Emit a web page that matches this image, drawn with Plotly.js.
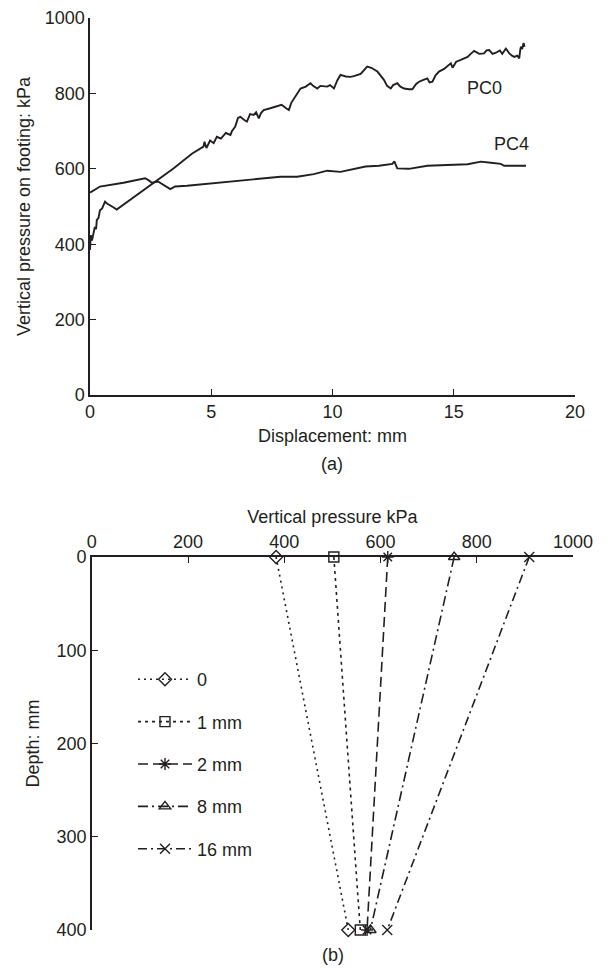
<!DOCTYPE html>
<html>
<head>
<meta charset="utf-8">
<script src="https://cdn.plot.ly/plotly-3.0.1.min.js"></script>
<style>html,body{margin:0;padding:0;background:#fff;}#chart{width:607px;height:979px;}</style>
</head>
<body>
<div id="chart"></div>
<script>
// ---- Panel (a): pressure vs displacement ----
const pc0X = [0,0.03,0.08,0.2,0.25,0.28,0.35,0.41,0.5,0.62,0.7,0.83,0.96,1.10,1.8,2.48,3.44,4.2,4.68,4.72,4.8,4.95,5.1,5.23,5.4,5.6,5.79,5.85,5.99,6.1,6.2,6.35,6.47,6.6,6.75,6.85,6.96,7.05,7.16,7.4,7.71,7.9,8.1,8.2,8.3,8.47,8.68,8.9,9.09,9.2,9.37,9.5,9.78,9.9,10.06,10.2,10.33,10.55,10.74,10.88,11.16,11.43,11.6,11.85,12.0,12.12,12.25,12.4,12.5,12.67,12.8,12.95,13.15,13.29,13.45,13.57,13.75,13.91,14.0,14.12,14.25,14.39,14.6,14.88,14.95,15.1,15.29,15.45,15.57,15.7,15.84,16.05,16.25,16.35,16.46,16.6,16.74,16.9,17.0,17.15,17.29,17.4,17.5,17.62,17.7,17.74,17.77,17.82,17.88,17.92];
const pc0Y = [385,424,410,446,440,464,470,490,495,513,508,504,498,492,525,557,601,640,659,672,655,675,668,685,680,695,690,700,712,735,738,730,725,745,743,750,734,748,756,760,765,770,760,756,775,791,813,818,827,820,813,820,818,822,813,835,849,845,844,846,852,871,868,858,845,836,820,813,822,827,818,813,811,811,825,831,836,840,829,831,848,858,865,880,868,884,889,893,897,905,913,905,906,914,915,905,908,914,905,919,906,900,897,900,893,915,924,918,934,924];
const pc4X = [0,0.41,1.38,1.79,2.27,2.41,2.55,2.82,3.10,3.31,3.51,4.0,7.85,8.54,9.23,9.78,10.33,10.74,11.36,11.91,12.47,12.55,12.67,13.15,13.91,15.57,16.12,16.53,16.94,17.08,17.98];
const pc4Y = [537,553,563,568,575,570,563,566,554,546,553,555,579,579,586,595,592,597,606,608,613,620,601,600,608,612,619,616,613,608,608];
const curveNames = ["PC0","PC4"];

// ---- Panel (b): pressure vs depth ----
const seriesNames = ["0","1 mm","2 mm","8 mm","16 mm"];
const depths = [0, 400];
const press0 = [383, 533];
const press1 = [503, 558];
const press2 = [615, 572];
const press3 = [753, 579];
const press4 = [909, 614];

const xTicksA = [0,5,10,15,20];
const yTicksA = [0,200,400,600,800,1000];
const xTicksB = [0,200,400,600,800,1000];
const yTicksB = [0,100,200,300,400];

const ink = '#231f20';
const font = {family:'Arial, "Liberation Sans", sans-serif', size:18, color:ink};

const pressures = [press0,press1,press2,press3,press4];
const symbols = ['diamond-open','square-open','asterisk-open','triangle-up-open','x-thin-open'];
const dashes = ['2px,4px','3px,4px','10px,5px','10px,4px,2px,4px','9px,4px,2px,4px'];

const traces = [
  {x:pc0X, y:pc0Y, mode:'lines', name:curveNames[0], showlegend:false, xaxis:'x', yaxis:'y', line:{color:ink, width:1.9}},
  {x:pc4X, y:pc4Y, mode:'lines', name:curveNames[1], showlegend:false, xaxis:'x', yaxis:'y', line:{color:ink, width:1.9}}
];
for (let i=0;i<5;i++){
  traces.push({x:pressures[i], y:depths, mode:'lines+markers', name:seriesNames[i], legendgroup:'g'+i,
    xaxis:'x2', yaxis:'y2', cliponaxis:false,
    line:{color:ink, width:1.6, dash:dashes[i]},
    marker:{symbol:symbols[i], size:10, color:ink, line:{color:ink, width:1.4}}});
}

const layout = {
  width:607, height:979,
  margin:{l:0,r:0,t:0,b:0},
  paper_bgcolor:'#fff', plot_bgcolor:'#fff',
  font:font,
  showlegend:true,
  legend:{x:133/607, y:1-661/979, xanchor:'left', yanchor:'top', bgcolor:'rgba(0,0,0,0)', font:font, tracegroupgap:16, itemwidth:54},
  xaxis:{domain:[0.1483,0.9473], anchor:'y', range:[0,20], tickvals:xTicksA, ticks:'inside', ticklen:6, tickcolor:ink,
    showline:true, linecolor:ink, linewidth:1.6, showgrid:false, zeroline:false, tickfont:font,
    title:{text:'Displacement: mm', font:font, standoff:8}},
  yaxis:{domain:[0.5965,0.9816], anchor:'x', range:[0,1000], tickvals:yTicksA, ticks:'inside', ticklen:6, tickcolor:ink,
    showline:true, linecolor:ink, linewidth:1.6, showgrid:false, zeroline:false, tickfont:font,
    title:{text:'Vertical pressure on footing: kPa', font:font, standoff:9}},
  xaxis2:{domain:[0.1512,0.9440], anchor:'y2', side:'top', range:[0,1000], tickvals:xTicksB, ticks:'inside', ticklen:6, tickcolor:ink,
    showline:true, linecolor:ink, linewidth:1.6, showgrid:false, zeroline:false, tickfont:font,
    title:{text:'Vertical pressure kPa', font:font, standoff:4}},
  yaxis2:{domain:[0.0501,0.4310], anchor:'x2', range:[400,0], tickvals:yTicksB, ticks:'inside', ticklen:6, tickcolor:ink,
    showline:true, linecolor:ink, linewidth:1.6, showgrid:false, zeroline:false, tickfont:font,
    title:{text:'Depth: mm', font:font, standoff:12}},
  annotations:[
    {xref:'x', yref:'y', x:16.28, y:814, text:curveNames[0], showarrow:false, font:font},
    {xref:'x', yref:'y', x:17.38, y:666, text:curveNames[1], showarrow:false, font:font},
    {xref:'paper', yref:'paper', x:332/607, y:1-464/979, text:'(a)', showarrow:false, font:font},
    {xref:'paper', yref:'paper', x:333/607, y:1-967/979, text:'(b)', showarrow:false, font:font}
  ]
};

Plotly.newPlot('chart', traces, layout, {displayModeBar:false, staticPlot:true});
</script>
</body>
</html>
